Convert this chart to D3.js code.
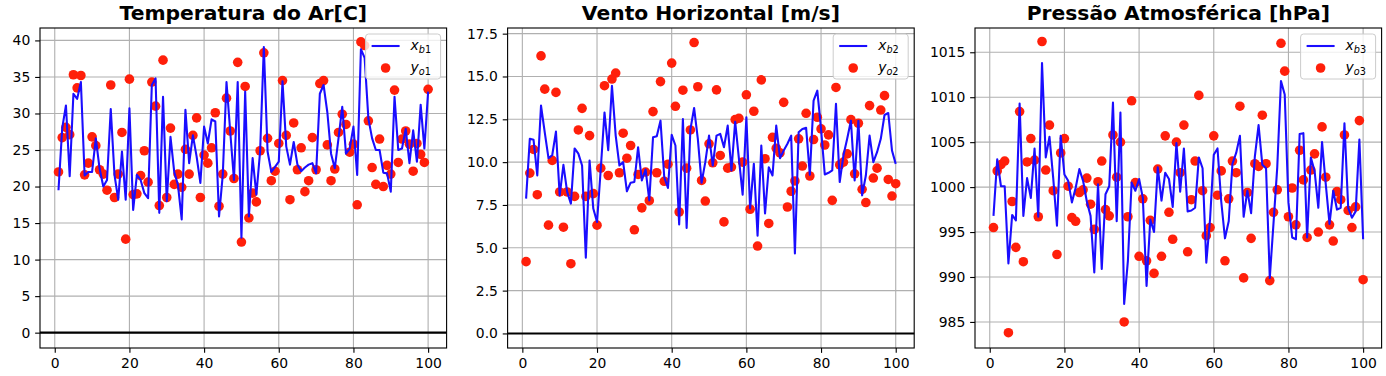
<!DOCTYPE html>
<html>
<head>
<meta charset="utf-8">
<script src="https://cdn.jsdelivr.net/npm/d3@7"></script>
<style>
  body { margin: 0; background: #fff; }
  svg { display: block; font-family: "DejaVu Sans", sans-serif; }
</style>
</head>
<body>
<div id="container"></div>
<script>
const width = 1386, height = 376;

// --- Data ---
const idx = d3.range(1, 101);

const tempBg = [19.5,28,31.1,21.4,32.7,32.0,34.3,21.5,22.0,22.0,26.6,22.5,20.0,20.9,30.6,21.6,18.2,24.8,18.2,30.7,
  16.8,21.6,20.9,19.1,18.4,33.9,34.8,16.4,32.3,18.0,26.8,22.0,20.2,15.5,30.5,23.2,27.0,24.1,20.5,28.2,
  25.9,29.2,28.9,15.9,21.6,34.3,27.5,20.9,34.3,13.0,33.0,15.9,23.9,18.9,24.8,39.1,24.8,22.0,22.7,23.4,
  34.4,25.5,23.0,26.1,23.0,22.1,22.6,23.0,23.2,21.8,32.7,33.9,30.2,24.5,22.5,26.6,30.9,24.5,25.2,28.2,
  21.6,38.8,37.6,29.3,26.6,25.0,25.0,21.9,21.8,19.3,32.3,25.0,25.2,27.9,23.2,27.7,23.4,31.2,25.2,33.0];
const tempObs = [22.0,26.7,28.1,27.1,35.3,33.5,35.2,21.6,23.2,26.8,25.6,22.3,21.7,19.5,33.9,18.5,21.7,27.4,12.8,34.7,
  18.9,19.0,21.5,24.9,20.6,34.3,31.0,17.4,37.3,18.5,28.0,20.3,21.7,19.9,25.1,21.7,27.0,29.4,18.5,24.3,
  23.2,25.3,30.1,17.3,21.7,32.1,27.6,21.1,37.0,12.4,33.7,15.7,19.1,17.9,24.9,38.3,26.6,20.8,22.1,25.9,
  34.5,27.0,18.2,28.7,22.3,25.3,19.3,20.8,26.7,22.3,34.1,34.5,25.7,20.8,22.4,27.4,29.9,28.5,24.7,25.8,
  17.5,39.8,39.3,29.0,22.6,20.3,26.5,20.0,22.9,21.7,33.2,23.3,26.5,27.6,25.8,22.1,25.9,24.4,23.3,33.3];

const windBg = [7.87,11.36,11.3,9.22,13.3,11.74,10.23,10.4,11.78,8.06,9.84,8.26,7.58,10.8,10.5,9.8,4.42,10.1,7.29,6.5,
  9.6,12.9,10.7,14.45,11.55,9.8,10.0,8.3,8.8,8.84,10.87,8.93,9.57,7.77,11.45,11.51,12.42,9.13,8.49,11.59,
  10.97,6.36,12.52,6.16,11.9,13.16,11.36,8.8,10.0,11.55,9.8,11.55,11.65,10.87,12.13,9.52,12.36,10.2,8.1,12.62,
  7.29,9.9,5.7,10.97,7.0,9.7,9.22,12.13,10.23,10.68,11.07,11.55,4.67,11.74,11.94,12.0,9.26,13.59,14.17,11.94,
  9.28,9.38,9.52,13.4,8.84,10.4,11.36,12.42,8.93,12.42,8.06,9.22,11.55,10.0,10.58,11.36,12.75,12.87,10.68,9.9];
const windObs = [4.19,9.36,10.74,8.10,16.2,14.26,6.32,10.1,14.07,8.26,6.2,8.26,4.07,8.0,11.88,13.14,8.0,11.55,8.16,6.32,
  9.65,14.46,9.22,14.85,15.2,9.38,11.69,10.23,10.97,6.05,9.28,7.33,9.42,7.75,12.95,9.38,14.7,8.88,9.88,15.78,
  13.26,7.09,14.2,9.65,11.88,16.98,14.4,8.93,7.73,11.07,9.96,14.22,10.39,6.51,9.65,9.71,12.48,12.56,10.0,13.93,
  7.25,12.97,5.1,14.8,10.2,6.42,11.45,10.81,10.54,13.49,7.38,8.3,8.9,11.36,9.77,12.85,9.19,11.32,12.62,11.94,
  11.0,11.59,7.77,14.36,9.84,10.0,10.48,12.48,9.32,12.27,8.41,7.64,13.3,9.07,9.65,13.04,13.88,8.99,8.02,8.74];

const presBg = [996.8,1003.1,1000.1,1000.1,991.5,996.9,996.3,1009.3,996.8,1001.0,998.8,1004.3,996.7,1013.8,1003.3,1005.6,1001.0,995.7,1005.7,1001.4,
  1000.7,998.3,999.9,1002.0,1000.7,998.4,996.8,990.5,1000.3,990.9,999.2,1000.1,1009.4,996.2,1008.3,987.0,991.8,1000.5,999.6,1000.9,
  998.8,989.0,996.4,995.0,1002.2,998.5,1001.6,1000.9,997.8,1004.9,999.5,1004.3,997.3,997.4,997.7,1003.3,1002.1,991.6,996.4,1003.6,
  1004.3,998.4,994.3,996.2,1002.6,1003.8,1005.7,996.7,999.6,997.1,1003.4,1006.9,1002.5,1002.1,989.9,996.0,1002.2,1011.8,1010.3,998.3,
  994.4,994.2,1005.9,1006.0,994.4,1003.3,1001.8,997.7,1005.0,1000.3,995.9,999.6,997.5,997.7,1007.1,997.7,996.6,997.3,1005.3,994.2];
const presObs = [995.5,1001.8,1002.5,1002.9,983.8,998.4,993.3,1008.4,991.7,1002.8,1005.4,1003.0,996.7,1016.2,1001.9,1006.9,999.6,992.5,1003.8,1005.4,
  1000.1,996.6,996.2,999.4,999.7,1001.0,998.1,995.3,1000.6,1002.9,997.5,996.8,1005.8,1001.1,1005.0,985.0,996.7,1009.6,1000.5,992.3,
  998.7,991.8,996.3,990.4,1002.0,992.3,1005.7,997.2,994.2,1005.0,1001.6,1006.9,992.8,998.6,1002.9,1010.2,999.6,994.6,995.5,1005.7,
  999.1,1001.8,991.8,998.7,1002.9,1001.6,1009.0,989.9,999.4,994.3,1002.6,1002.3,1008.0,1002.6,989.6,997.2,999.7,1016.0,1012.9,996.7,
  999.9,995.8,1004.1,1000.8,994.4,1001.9,1003.7,995.0,1006.7,1001.1,995.8,994.0,999.5,998.6,1005.8,997.4,995.5,997.8,1007.4,989.7];

const xTicks = [0, 20, 40, 60, 80, 100];
const tempTicks = [0, 5, 10, 15, 20, 25, 30, 35, 40];
const windTicks = [0, 2.5, 5, 7.5, 10, 12.5, 15, 17.5];
const presTicks = [985, 990, 995, 1000, 1005, 1010, 1015];

const titles = ["Temperatura do Ar[C]", "Vento Horizontal [m/s]", "Pressão Atmosférica [hPa]"];

// --- Layout ---
const plotTop = 28, plotBottom = 348, pw = 406.6;
const lefts = [40, 507.6, 975];
const pt = 1.389;

const panels = [
  { bg: tempBg, obs: tempObs, ticks: tempTicks, dom: [-2.1, 41.7], fmt: d => d, zero: true, n: "1" },
  { bg: windBg, obs: windObs, ticks: windTicks, dom: [-0.85, 17.83], fmt: d => d.toFixed(1), zero: true, n: "2" },
  { bg: presBg, obs: presObs, ticks: presTicks, dom: [982.1, 1017.7], fmt: d => d, zero: false, n: "3" },
];

const svg = d3.select("#container").append("svg")
  .attr("width", width).attr("height", height);

panels.forEach((p, k) => {
  const L = lefts[k];
  const x = d3.scaleLinear().domain([-3.95, 104.95]).range([L, L + pw]);
  const y = d3.scaleLinear().domain(p.dom).range([plotBottom, plotTop]);
  const g = svg.append("g");

  // grid
  g.append("g").selectAll("line").data(xTicks).join("line")
    .attr("x1", d => x(d)).attr("x2", d => x(d)).attr("y1", plotTop).attr("y2", plotBottom)
    .attr("stroke", "#b0b0b0").attr("stroke-width", 0.8 * pt);
  g.append("g").selectAll("line").data(p.ticks).join("line")
    .attr("x1", L).attr("x2", L + pw).attr("y1", d => y(d)).attr("y2", d => y(d))
    .attr("stroke", "#b0b0b0").attr("stroke-width", 0.8 * pt);

  // observations (below line, like matplotlib zorder)
  g.append("g").selectAll("circle").data(idx).join("circle")
    .attr("cx", d => x(d)).attr("cy", (d, i) => y(p.obs[i]))
    .attr("r", 4.8).attr("fill", "#ff1f0a");

  // background line
  g.append("path").datum(idx)
    .attr("d", d3.line().x(d => x(d)).y((d, i) => y(p.bg[i])))
    .attr("fill", "none").attr("stroke", "#1a0dff")
    .attr("stroke-width", 1.5 * pt).attr("stroke-linejoin", "round");

  if (p.zero) {
    g.append("line")
      .attr("x1", L).attr("x2", L + pw).attr("y1", y(0)).attr("y2", y(0))
      .attr("stroke", "#000").attr("stroke-width", 1.5 * pt);
  }

  // axes
  const xa = g.append("g").attr("transform", `translate(0,${plotBottom})`)
    .call(d3.axisBottom(x).tickValues(xTicks).tickSize(3.5 * pt).tickPadding(3.5 * pt).tickSizeOuter(0));
  const ya = g.append("g").attr("transform", `translate(${L},0)`)
    .call(d3.axisLeft(y).tickValues(p.ticks).tickFormat(p.fmt).tickSize(3.5 * pt).tickPadding(3.5 * pt).tickSizeOuter(0));
  [xa, ya].forEach(a => {
    a.select(".domain").remove();
    a.selectAll("line").attr("stroke", "#000").attr("stroke-width", 0.8 * pt);
    a.selectAll("text").attr("fill", "#000").style("font-size", "13.9px")
      .style("font-family", "DejaVu Sans");
  });

  // frame
  g.append("rect").attr("x", L).attr("y", plotTop).attr("width", pw).attr("height", plotBottom - plotTop)
    .attr("fill", "none").attr("stroke", "#000").attr("stroke-width", 0.8 * pt);

  // title
  g.append("text").attr("x", L + pw / 2).attr("y", 20)
    .attr("text-anchor", "middle").style("font-size", "20.3px").style("font-weight", "bold")
    .text(titles[k]);

  // legend
  const bw = 75, bh = 45;
  const bx = L + pw - 6 - bw, by = plotTop + 6;
  const lg = g.append("g");
  lg.append("rect").attr("x", bx).attr("y", by).attr("width", bw).attr("height", bh)
    .attr("rx", 3).attr("fill", "#fff").attr("fill-opacity", 0.8)
    .attr("stroke", "#cccccc").attr("stroke-width", 1);
  const r1 = by + 12, r2 = by + 34;
  lg.append("line").attr("x1", bx + 6).attr("x2", bx + 34).attr("y1", r1).attr("y2", r1)
    .attr("stroke", "#1a0dff").attr("stroke-width", 1.5 * pt);
  lg.append("circle").attr("cx", bx + 20).attr("cy", r2).attr("r", 4.8).attr("fill", "#ff1f0a");
  [["x", "b", r1], ["y", "o", r2]].forEach(([v, s, ry]) => {
    const t = lg.append("text").attr("x", bx + 45).attr("y", ry + 4).style("font-size", "13.9px");
    t.append("tspan").style("font-style", "italic").text(v);
    t.append("tspan").attr("dy", 3).style("font-size", "9.7px").style("font-style", "italic").text(s);
    t.append("tspan").style("font-size", "9.7px").text(p.n);
  });
});
</script>
</body>
</html>
